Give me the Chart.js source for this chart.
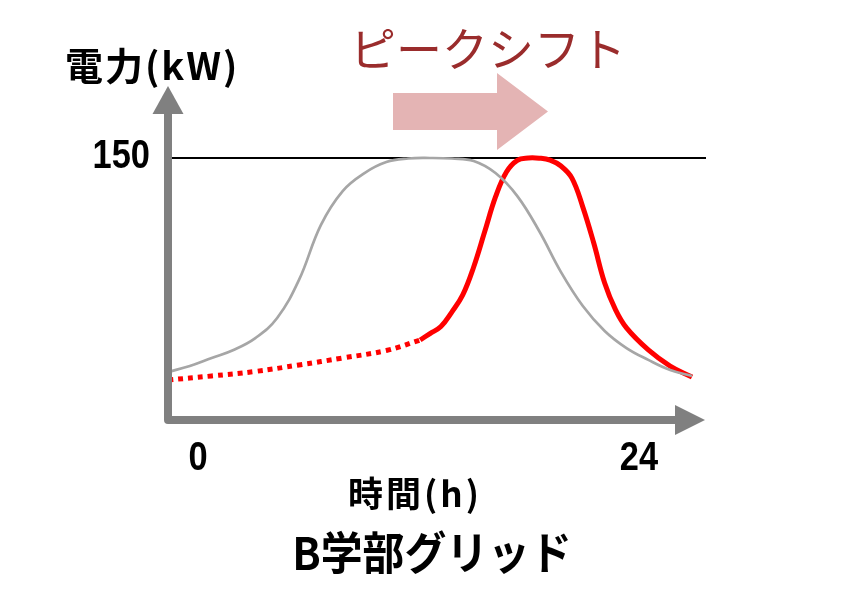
<!DOCTYPE html>
<html>
<head>
<meta charset="utf-8">
<script src="https://cdn.jsdelivr.net/npm/chart.js@4.4.1/dist/chart.umd.min.js"></script>
<style>
  html, body { margin: 0; padding: 0; background: #ffffff; }
  #wrap { width: 850px; height: 600px; position: relative; }
</style>
</head>
<body>
<div id="wrap"><canvas id="c" width="850" height="600"></canvas></div>
<script>
// ---- data (hours, kW) ----
const grayHours = [0,1,2,3,4,5,6,7,8,9,10,11,12,13,14,15,16,17,18,19,20,21,22,23,24];
const grayKW    = [27.5,30.9,35.5,40.1,46.9,58.4,80.2,111.6,131.1,141.4,147.7,149.7,150,149.7,148.3,141.4,128.2,108.2,84.7,65.3,51,41.2,34.4,28.6,25.2];

const redDotHours = [0,2,4,6,8,10,11.55];
const redDotKW    = [22.9,25.2,27.8,31.5,35.5,39.8,45.8];

const redHours = [11.55,12,12.5,13,13.5,14,14.5,15,15.5,16,16.5,17,17.5,18,18.5,19,19.5,20,20.5,21,22,23,24];
const redKW    = [45.8,49.5,53.5,61.8,71.6,87.6,107.6,127.7,142,148.7,150,149.9,148.8,145.4,138.5,121.9,101.3,78.4,63,52.7,40.1,30.9,24.6];

const capKW = 150;
const xTickLabels = ['0', '24'];
const yTickLabels = ['150'];
const yTitle = '電力(kW)';
const xTitle = '時間(h)';
const chartTitle = 'B学部グリッド';
const shiftLabel = 'ピークシフト';

function pairs(xs, ys) { return xs.map((x, i) => ({ x: x, y: ys[i] })); }

const CJK = '"Noto Sans CJK JP", "Noto Sans", sans-serif';
const NUM = '"Liberation Sans", Arial, sans-serif';

function txt(ctx, s, x, y, font, color, align, sx, ls) {
  ctx.save();
  ctx.font = font;
  ctx.fillStyle = color;
  ctx.textAlign = align || 'center';
  ctx.textBaseline = 'middle';
  if (ls) { try { ctx.letterSpacing = ls; } catch (e) {} }
  ctx.translate(x, y);
  ctx.scale(sx || 1, 1);
  ctx.fillText(s, 0, 0);
  ctx.restore();
}

const decor = {
  id: 'decor',
  beforeDatasetsDraw(chart) {
    const ctx = chart.ctx, xs = chart.scales.x, ys = chart.scales.y;
    const yc = ys.getPixelForValue(capKW);
    ctx.save();
    ctx.strokeStyle = '#000000';
    ctx.lineWidth = 2;
    ctx.beginPath();
    ctx.moveTo(xs.getPixelForValue(0) - 1, yc);
    ctx.lineTo(xs.getPixelForValue(24) + 14, yc);
    ctx.stroke();
    ctx.restore();
  },
  afterDatasetsDraw(chart) {
    const ctx = chart.ctx, xs = chart.scales.x, ys = chart.scales.y;
    const x0 = xs.getPixelForValue(0);
    const y0 = ys.getPixelForValue(0);
    const gray = '#808080';
    ctx.save();
    // axes bars
    ctx.strokeStyle = gray;
    ctx.lineWidth = 8;
    ctx.lineJoin = 'round';
    ctx.beginPath();
    ctx.moveTo(x0, 112);
    ctx.lineTo(x0, y0);
    ctx.lineTo(676, y0);
    ctx.stroke();
    // y arrowhead
    ctx.fillStyle = gray;
    ctx.beginPath();
    ctx.moveTo(x0, 86);
    ctx.lineTo(x0 + 15.5, 114);
    ctx.lineTo(x0 - 15.5, 114);
    ctx.closePath();
    ctx.fill();
    // x arrowhead
    ctx.beginPath();
    ctx.moveTo(705, y0);
    ctx.lineTo(675, y0 - 15);
    ctx.lineTo(675, y0 + 15);
    ctx.closePath();
    ctx.fill();

    // pink shift arrow
    ctx.fillStyle = '#E4B4B4';
    ctx.beginPath();
    ctx.moveTo(393, 93);
    ctx.lineTo(497, 93);
    ctx.lineTo(497, 73);
    ctx.lineTo(548, 111.5);
    ctx.lineTo(497, 150);
    ctx.lineTo(497, 130);
    ctx.lineTo(393, 130);
    ctx.closePath();
    ctx.fill();
    ctx.restore();

    // texts
    txt(ctx, yTitle, 65, 66, 'bold 38px ' + CJK, '#000', 'left', 1, '2px');
    txt(ctx, yTickLabels[0], 150, 157, 'bold 40px ' + NUM, '#000', 'right', 0.86);
    txt(ctx, xTickLabels[0], 198, 459, 'bold 40px ' + NUM, '#000', 'center', 0.86);
    txt(ctx, xTickLabels[1], 639, 459, 'bold 40px ' + NUM, '#000', 'center', 0.86);
    txt(ctx, xTitle, 415, 494, 'bold 35px ' + CJK, '#000', 'center', 1, '3px');
    txt(ctx, chartTitle, 432, 553, 'bold 45px ' + CJK, '#000', 'center', 0.93);
    txt(ctx, shiftLabel, 488, 49, '46px ' + CJK, '#9A2C2C', 'center', 1);
  }
};

new Chart(document.getElementById('c'), {
  type: 'line',
  data: {
    datasets: [
      {
        label: 'before',
        data: pairs(grayHours, grayKW),
        borderColor: '#A6A6A6',
        borderWidth: 2.7,
        pointRadius: 0,
        tension: 0.4,
        fill: false,
        clip: false
      },
      {
        label: 'after (dotted)',
        data: pairs(redDotHours, redDotKW),
        borderColor: '#FF0000',
        borderWidth: 5,
        borderDash: [5, 5],
        pointRadius: 0,
        tension: 0.4,
        fill: false,
        clip: false
      },
      {
        label: 'after',
        data: pairs(redHours, redKW),
        borderColor: '#FF0000',
        borderWidth: 5,
        pointRadius: 0,
        tension: 0.4,
        fill: false,
        clip: false
      }
    ]
  },
  options: {
    responsive: false,
    animation: false,
    layout: { padding: { left: 168, right: 158, top: 105.6, bottom: 180 } },
    plugins: { legend: { display: false }, tooltip: { enabled: false }, title: { display: false } },
    scales: {
      x: { type: 'linear', min: 0, max: 24, display: false },
      y: { type: 'linear', min: 0, max: 180, display: false }
    }
  },
  plugins: [decor]
});
</script>
</body>
</html>
